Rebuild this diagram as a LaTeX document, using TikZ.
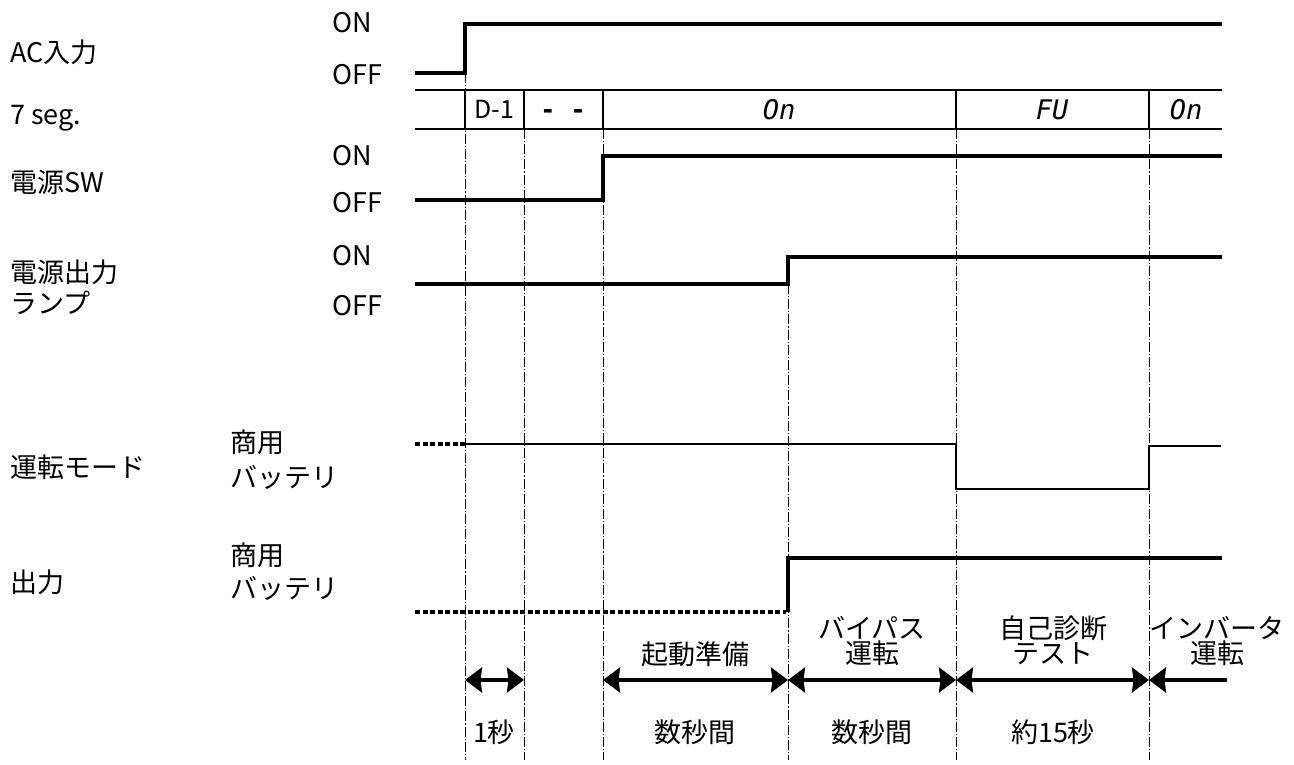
\documentclass[tikz,border=0pt]{standalone}
\usepackage{fontspec}
\setmainfont{Noto Sans CJK JP}
\newfontfamily\segfont{DejaVu Sans Mono}
\usetikzlibrary{arrows.meta}
\begin{document}
\begin{tikzpicture}[x=1pt,y=-1pt,
  sig/.style={line width=3.6pt, line cap=butt, line join=miter},
  modeline/.style={line width=2pt, line join=miter},
  rowline/.style={line width=1.3pt},
  guide/.style={line width=0.9pt, dash pattern=on 10pt off 2pt on 1.2pt off 2pt},
  dotsig/.style={line width=3.6pt, dash pattern=on 5pt off 2.5pt},
  txt/.style={inner sep=0pt, font=\fontsize{27}{27}\selectfont},
  lbl/.style={txt, anchor=base west},
  ctr/.style={txt, anchor=base},
  seg/.style={inner sep=0pt, anchor=base, font=\segfont\itshape\fontsize{27}{27}\selectfont},
  tip/.tip={Stealth[length=17pt,width=25pt,inset=1.5pt]},
  span/.style={line width=3.6pt, tip-tip},
  lspan/.style={line width=3.6pt, tip-}
]
\useasboundingbox (0,0) rectangle (1294,764);

% left labels
\node[lbl] (lac) at (10,62) {AC入力};
\node[lbl] (lseg) at (10,124) {7 seg.};
\node[lbl] (lsw) at (10,192) {電源SW};
\node[lbl] (llamp1) at (10,282) {電源出力};
\node[lbl] (llamp2) at (10,313) {ランプ};
\node[lbl] (lmode) at (10,477) {運転モード};
\node[lbl] (lout) at (10,592) {出力};

% ON/OFF labels
\node[lbl] (on1) at (332,32) {ON};
\node[lbl] (off1) at (332,84) {OFF};
\node[lbl] (on2) at (332,165) {ON};
\node[lbl] (off2) at (332,212) {OFF};
\node[lbl] (on3) at (332,265) {ON};
\node[lbl] (off3) at (332,315) {OFF};
\node[lbl] (sy1) at (230,452) {商用};
\node[lbl] (bt1) at (230,487) {バッテリ};
\node[lbl] (sy2) at (230,565) {商用};
\node[lbl] (bt2) at (230,598) {バッテリ};

% guide lines (dash-dot)
\draw[guide] (465,73) -- (465,760);
\draw[guide] (524,129) -- (524,760);
\draw[guide] (603,129) -- (603,760);
\draw[guide] (788,284) -- (788,760);
\draw[guide] (956,129) -- (956,760);
\draw[guide] (1149,129) -- (1149,760);

% 7 seg row
\draw[rowline] (415,90) -- (1222,90);
\draw[rowline] (415,129) -- (1222,129);
\foreach \x in {465,524,603,956,1149} \draw[rowline] (\x,90) -- (\x,129);
\node[txt, anchor=base, font=\fontsize{25}{25}\selectfont] (d1) at (494,118) {D-1};
\node[seg, font=\segfont\bfseries\fontsize{25}{25}\selectfont] (dd) at (563,118) {- -};
\node[seg] (s1) at (779,119) {On};
\node[seg] (s2) at (1052,119) {FU};
\node[seg] (s3) at (1186,119) {On};

% signals
\draw[sig] (415,73) -- (465,73) -- (465,24) -- (1222,24);
\draw[sig] (415,200) -- (603,200) -- (603,156) -- (1222,156);
\draw[sig] (415,284) -- (788,284) -- (788,257) -- (1222,257);
\draw[dotsig] (415,444) -- (465,444);
\draw[modeline] (465,444) -- (956,444) -- (956,489) -- (1149,489) -- (1149,446) -- (1221,446);
\draw[dotsig] (415,612) -- (786,612);
\draw[sig] (788,612) -- (788,558) -- (1222,558);

% span arrows
\coordinate (a1) at (465,680);
\coordinate (a2) at (524,680);
\coordinate (a3) at (603,680);
\coordinate (a4) at (788,680);
\coordinate (a5) at (956,680);
\coordinate (a6) at (1149,680);
\coordinate (a7) at (1227,680);
\draw[span] (a1) -- (a2);
\draw[span] (a3) -- (a4);
\draw[span] (a4) -- (a5);
\draw[span] (a5) -- (a6);
\draw[lspan] (a6) -- (a7);

% phase labels
\node[ctr] (p1) at (695,664) {起動準備};
\node[ctr] (p2a) at (872,638) {バイパス};
\node[ctr] (p2b) at (872,663) {運転};
\node[ctr] (p3a) at (1053,638) {自己診断};
\node[ctr] (p3b) at (1053,663) {テスト};
\node[ctr] (p4a) at (1217,638) {インバータ};
\node[ctr] (p4b) at (1217,663) {運転};

% durations
\node[ctr] (t1) at (494,742) {1秒};
\node[ctr] (t2) at (695,742) {数秒間};
\node[ctr] (t3) at (872,742) {数秒間};
\node[ctr] (t4) at (1053,742) {約15秒};
\end{tikzpicture}
\end{document}
